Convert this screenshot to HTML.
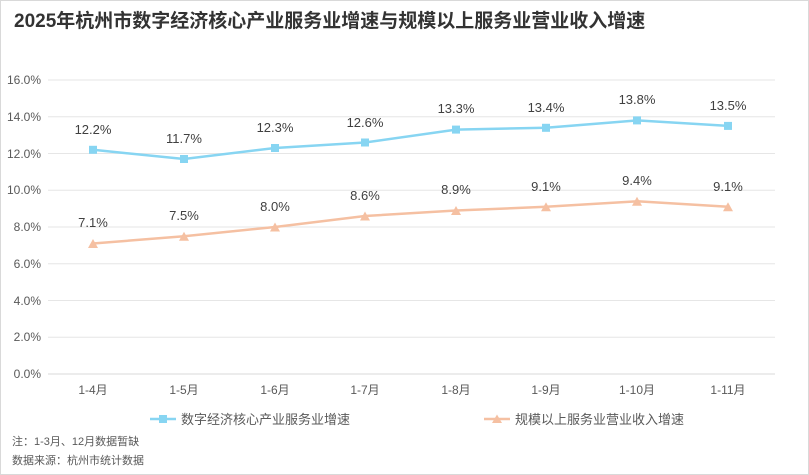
<!DOCTYPE html>
<html><head><meta charset="utf-8"><style>
body{margin:0;background:#fff}
svg{display:block;font-family:"Liberation Sans","Noto Sans CJK SC",sans-serif}
</style></head><body>
<svg width="809" height="475" viewBox="0 0 809 475">
<rect x="0.5" y="0.5" width="808" height="474" fill="#fff" stroke="#d9d9d9"/>
<text x="14" y="27" font-size="19" font-weight="bold" fill="#333">2025年杭州市数字经济核心产业服务业增速与规模以上服务业营业收入增速</text>
<g stroke="#e6e6e6" stroke-width="1">
<line x1="48" x2="775" y1="80" y2="80"/><line x1="48" x2="775" y1="116.75" y2="116.75"/>
<line x1="48" x2="775" y1="153.5" y2="153.5"/><line x1="48" x2="775" y1="190.25" y2="190.25"/>
<line x1="48" x2="775" y1="227" y2="227"/><line x1="48" x2="775" y1="263.75" y2="263.75"/>
<line x1="48" x2="775" y1="300.5" y2="300.5"/><line x1="48" x2="775" y1="337.25" y2="337.25"/>
<line x1="48" x2="775" y1="374" y2="374" stroke="#d9d9d9"/>
</g>
<g font-size="12" fill="#595959" text-anchor="end">
<text x="41" y="84">16.0%</text><text x="41" y="121">14.0%</text><text x="41" y="158">12.0%</text>
<text x="41" y="194">10.0%</text><text x="41" y="231">8.0%</text><text x="41" y="268">6.0%</text>
<text x="41" y="305">4.0%</text><text x="41" y="341">2.0%</text><text x="41" y="378">0.0%</text>
</g>
<g font-size="12" fill="#595959" text-anchor="middle">
<text x="93" y="394">1-4月</text><text x="184" y="394">1-5月</text><text x="275" y="394">1-6月</text>
<text x="365" y="394">1-7月</text><text x="456" y="394">1-8月</text><text x="546" y="394">1-9月</text>
<text x="637" y="394">1-10月</text><text x="728" y="394">1-11月</text>
</g>
<polyline fill="none" stroke="#87d5f2" stroke-width="2.5" points="93,149.8 184,159 275,148 365,142.5 456,129.6 546,127.8 637,120.4 728,125.9"/>
<g fill="#87d5f2">
<rect x="89" y="145.8" width="8" height="8"/><rect x="180" y="155" width="8" height="8"/><rect x="271" y="144" width="8" height="8"/>
<rect x="361" y="138.5" width="8" height="8"/><rect x="452" y="125.6" width="8" height="8"/><rect x="542" y="123.8" width="8" height="8"/>
<rect x="633" y="116.4" width="8" height="8"/><rect x="724" y="121.9" width="8" height="8"/>
</g>
<polyline fill="none" stroke="#f5c0a2" stroke-width="2.5" points="93,243.5 184,236.2 275,227 365,216 456,210.5 546,206.8 637,201.3 728,206.8"/>
<g fill="#f5c0a2">
<polygon points="93,239 98,248 88,248"/><polygon points="184,231.7 189,240.7 179,240.7"/><polygon points="275,222.5 280,231.5 270,231.5"/>
<polygon points="365,211.5 370,220.5 360,220.5"/><polygon points="456,206 461,215 451,215"/><polygon points="546,202.3 551,211.3 541,211.3"/>
<polygon points="637,196.8 642,205.8 632,205.8"/><polygon points="728,202.3 733,211.3 723,211.3"/>
</g>
<g font-size="13" fill="#404040" text-anchor="middle">
<text x="93" y="134">12.2%</text><text x="184" y="143">11.7%</text><text x="275" y="132">12.3%</text>
<text x="365" y="127">12.6%</text><text x="456" y="113">13.3%</text><text x="546" y="112">13.4%</text>
<text x="637" y="104">13.8%</text><text x="728" y="110">13.5%</text>
<text x="93" y="227">7.1%</text><text x="184" y="220">7.5%</text><text x="275" y="211">8.0%</text>
<text x="365" y="200">8.6%</text><text x="456" y="194">8.9%</text><text x="546" y="191">9.1%</text>
<text x="637" y="185">9.4%</text><text x="728" y="191">9.1%</text>
</g>
<line x1="150" x2="176" y1="419" y2="419" stroke="#87d5f2" stroke-width="2.5"/>
<rect x="159" y="415" width="8" height="8" fill="#87d5f2"/>
<text x="181" y="424" font-size="13" fill="#595959">数字经济核心产业服务业增速</text>
<line x1="484" x2="510" y1="419" y2="419" stroke="#f5c0a2" stroke-width="2.5"/>
<polygon points="497,414.5 502,423 492,423" fill="#f5c0a2"/>
<text x="515" y="424" font-size="13" fill="#595959">规模以上服务业营业收入增速</text>
<text x="12" y="445" font-size="11" fill="#595959">注：1-3月、12月数据暂缺</text>
<text x="12" y="464" font-size="11" fill="#595959">数据来源：杭州市统计数据</text>
</svg>
</body></html>
